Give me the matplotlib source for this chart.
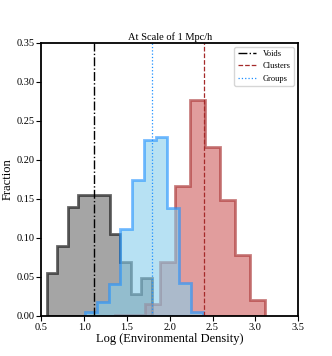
import numpy as np
import matplotlib
matplotlib.use("Agg")
import matplotlib.pyplot as plt

plt.rcParams['font.family'] = ['Liberation Serif', 'DejaVu Serif']

# Histogram data (fraction per bin)
voids_start, voids_width = 0.563, 0.1228
voids_frac = [0.055, 0.090, 0.140, 0.155, 0.155, 0.155, 0.105, 0.069, 0.028, 0.049]

groups_start, groups_width = 1.012, 0.1373
groups_frac = [0.0045, 0.0175, 0.041, 0.111, 0.1746, 0.226, 0.229, 0.138, 0.0425, 0.0055]

clusters_start, clusters_width = 1.358, 0.175
clusters_frac = [0.0012, 0.0012, 0.0155, 0.069, 0.1665, 0.276, 0.216, 0.149, 0.078, 0.0204]

voids_mean = 1.115
groups_mean = 1.793
clusters_mean = 2.397

title = "At Scale of 1 Mpc/h"
xlabel = "Log (Environmental Density)"
ylabel = "Fraction"
xticks = [0.5, 1.0, 1.5, 2.0, 2.5, 3.0, 3.5]
yticks = [0.0, 0.05, 0.10, 0.15, 0.20, 0.25, 0.30, 0.35]


def edges(start, width, n):
    return start + width * np.arange(n + 1)


fig = plt.figure(figsize=(3.32, 3.56), dpi=100)
ax = fig.add_axes([0.1245, 0.1124, 0.7735, 0.7676])

def draw(start, width, frac, fc, ec):
    e = edges(start, width, len(frac))
    centers = (e[:-1] + e[1:]) / 2
    ax.hist(centers, bins=e, weights=frac, histtype='stepfilled',
            facecolor=fc, edgecolor=ec, alpha=0.6, lw=2)

draw(voids_start, voids_width, voids_frac, 'dimgray', 'black')
ax.axvline(voids_mean, color='black', ls='-.', lw=1, label='Voids')
draw(clusters_start, clusters_width, clusters_frac, 'indianred', 'brown')
ax.axvline(clusters_mean, color='brown', ls='--', lw=0.9, label='Clusters')
draw(groups_start, groups_width, groups_frac, 'skyblue', 'dodgerblue')
ax.axvline(groups_mean, color='dodgerblue', ls=':', lw=0.9, label='Groups')

ax.set_xlim(0.5, 3.5)
ax.set_ylim(0, 0.35)
ax.set_xticks(xticks)
ax.set_xticklabels([f"{t:.1f}" for t in xticks])
ax.set_yticks(yticks)
ax.set_yticklabels([f"{t:.2f}" for t in yticks])
ax.tick_params(labelsize=7.5, pad=1.5)
for s in ax.spines.values():
    s.set_linewidth(1.3)
ax.set_title(title, fontsize=7.5, pad=2)
ax.set_xlabel(xlabel, fontsize=9, labelpad=1)
ax.set_ylabel(ylabel, fontsize=9, labelpad=2)
ax.legend(loc='upper right', fontsize=6, handlelength=2.2)

fig.savefig('out.png', dpi=100)
